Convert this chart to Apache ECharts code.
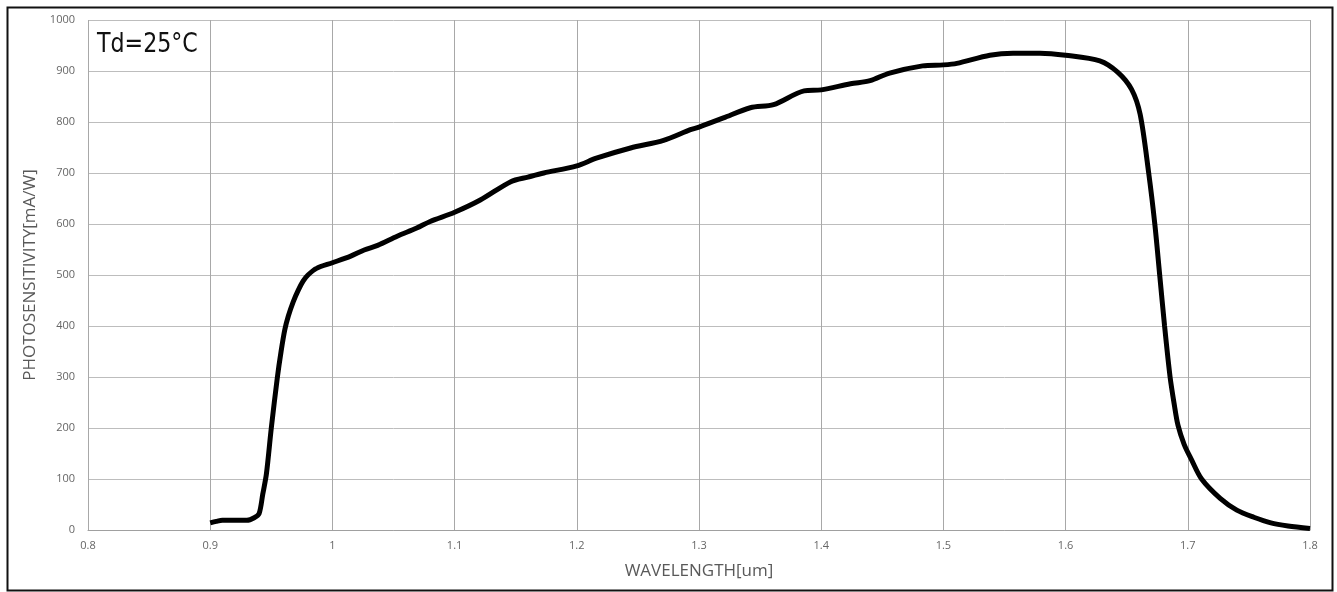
<!DOCTYPE html>
<html>
<head>
<meta charset="utf-8">
<script src="https://cdn.jsdelivr.net/npm/echarts@6/dist/echarts.min.js"></script>
<style>
html,body{margin:0;padding:0;background:#fff;}
#c{width:1337px;height:592px;}
</style>
</head>
<body>
<div id="c"></div>
<script>
const wavelength = [0.900,0.905,0.910,0.920,0.930,0.936,0.940,0.943,0.946,0.950,0.955,0.958,0.961,0.964,0.968,0.972,0.976,0.980,0.987,1.000,1.015,1.026,1.037,1.053,1.069,1.080,1.100,1.121,1.146,1.160,1.173,1.200,1.216,1.244,1.271,1.293,1.300,1.320,1.342,1.361,1.386,1.400,1.424,1.440,1.456,1.483,1.500,1.511,1.538,1.557,1.579,1.600,1.628,1.643,1.654,1.661,1.668,1.673,1.677,1.681,1.6855,1.689,1.692,1.697,1.703,1.7113,1.7265,1.7401,1.754,1.768,1.782,1.800];
const photosensitivity = [14,17,19,19,19,24,32,70,110,200,300,350,392,420,448,470,488,500,513,524,537,549,558,576,592,605,623,647,683,692,700,714,729,749,764,785,790,808,828,834,861,863,875,881,896,910,912,915,931,935,935,931,920,897,864,815,700,600,500,400,300,245,205,168,138,100,62,39,25,14,8,3];
const xTicks = {min:0.8, max:1.8, step:0.1};
const yTicks = {min:0, max:1000, step:100};
const annotation = 'Td=25°C';
const xName = 'WAVELENGTH[um]';
const yName = 'PHOTOSENSITIVITY[mA/W]';

const chart = echarts.init(document.getElementById('c'));
chart.setOption({
  animation:false,
  backgroundColor:'#fff',
  grid:{left:88,right:27,top:20,bottom:62},
  graphic:[
    {type:'rect',left:5,top:5,shape:{width:1325,height:583},style:{fill:'none',stroke:'#111',lineWidth:2},silent:true},
    {type:'text',x:97,y:31,scaleX:0.82,style:{text:annotation,fontFamily:'DejaVu Sans, sans-serif',fontSize:27,fill:'#111'},silent:true}
  ],
  xAxis:{type:'value',min:xTicks.min,max:xTicks.max,interval:xTicks.step,
    name:xName,nameLocation:'middle',nameGap:33,
    nameTextStyle:{fontFamily:'Open Sans, sans-serif',fontSize:17,color:'#595959'},
    axisLine:{show:true,lineStyle:{color:'#a0a0a0',width:1}},
    axisTick:{show:false},
    axisLabel:{margin:10,fontFamily:'Open Sans, sans-serif',fontSize:11,color:'#666',formatter:v=>String(+v.toFixed(1))},
    splitLine:{show:true,lineStyle:{color:'#a8a8a8',width:1}}},
  yAxis:{type:'value',min:yTicks.min,max:yTicks.max,interval:yTicks.step,
    name:yName,nameLocation:'middle',nameGap:46,
    nameTextStyle:{fontFamily:'Open Sans, sans-serif',fontSize:17,color:'#595959'},
    axisLine:{show:false},axisTick:{show:false},
    axisLabel:{margin:13,fontFamily:'Open Sans, sans-serif',fontSize:11,color:'#666',formatter:v=>String(v)},
    splitLine:{show:true,lineStyle:{color:'#bdbdbd',width:1}}},
  series:[{type:'line',data:wavelength.map((w,i)=>[w,photosensitivity[i]]),
    smooth:0.3,showSymbol:false,lineStyle:{color:'#000',width:5},itemStyle:{color:'#000'}}]
});
</script>
</body>
</html>
